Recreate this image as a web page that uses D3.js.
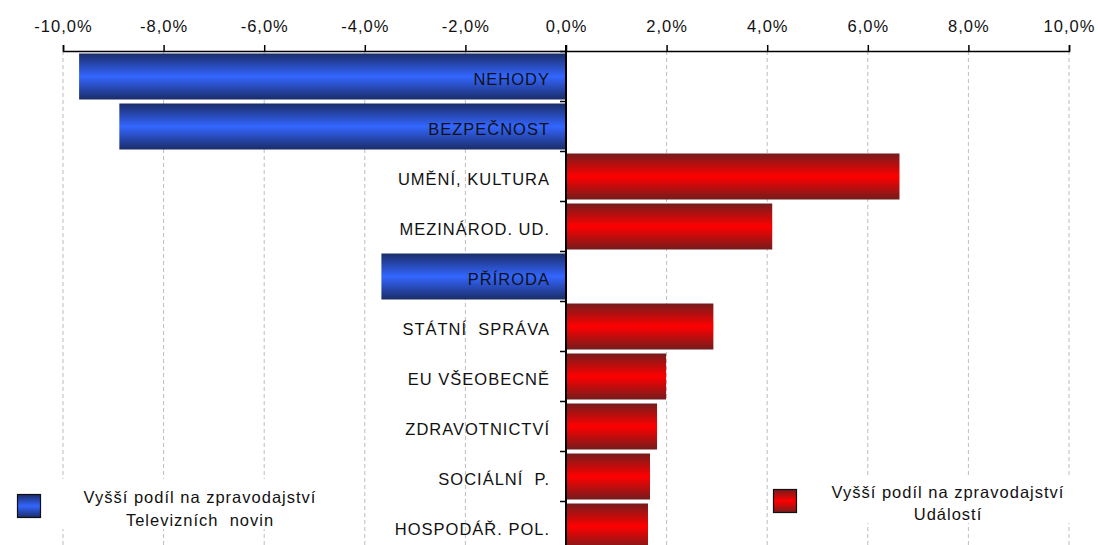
<!DOCTYPE html>
<html>
<head>
<meta charset="utf-8">
<script src="https://cdn.jsdelivr.net/npm/d3@7"></script>
<style>
  html, body { margin: 0; padding: 0; background: #fff; }
  svg { display: block; font-family: "Liberation Sans", Arial, sans-serif; }
  .txt { font-size: 16.5px; letter-spacing: 1px; fill: #111; white-space: pre; }
</style>
</head>
<body>
<svg id="chart" width="1098" height="545"></svg>
<script>
// rozdíl podílu témat (Události minus Televizní noviny), v %
const categories = ["NEHODY", "BEZPEČNOST", "UMĚNÍ, KULTURA", "MEZINÁROD. UD.", "PŘÍRODA",
    "STÁTNÍ  SPRÁVA", "EU VŠEOBECNĚ", "ZDRAVOTNICTVÍ", "SOCIÁLNÍ  P.", "HOSPODÁŘ. POL."];
const values = [-9.68, -8.88, 6.63, 4.10, -3.67, 2.93, 1.99, 1.81, 1.67, 1.63];
const tickValues = [-10, -8, -6, -4, -2, 0, 2, 4, 6, 8, 10];
const legendTV = ["Vyšší podíl na zpravodajství", "Televizních  novin"];
const legendUD = ["Vyšší podíl na zpravodajství", "Událostí"];

const svg = d3.select("#chart");
const W = 1098, H = 545;

const x = d3.scaleLinear().domain([-10, 10]).range([63, 1069]);
const y = d3.scaleBand().domain(categories).range([51.5, 551.5])
    .paddingInner(0.08).paddingOuter(0.04);

const cz = d3.formatLocale({decimal: ",", thousands: " ", grouping: [3], currency: ["", " Kč"], minus: "-"});
const fmt = v => cz.format(".1f")(v) + "%";

// gradienty
const defs = svg.append("defs");
function grad(id, edge, mid) {
    const g = defs.append("linearGradient").attr("id", id)
        .attr("x1", 0).attr("y1", 0).attr("x2", 0).attr("y2", 1);
    g.append("stop").attr("offset", "0%").attr("stop-color", edge);
    g.append("stop").attr("offset", "50%").attr("stop-color", mid);
    g.append("stop").attr("offset", "100%").attr("stop-color", edge);
}
grad("gBlue", "#1b2c68", "#3366ff");
grad("gRed", "#741c1c", "#ff0000");

// mřížka
svg.append("g").selectAll("line")
    .data(tickValues.filter(d => d !== 0))
    .join("line")
    .attr("x1", d => x(d)).attr("x2", d => x(d))
    .attr("y1", 51).attr("y2", H)
    .attr("stroke", "#bdbdbd").attr("stroke-width", 1)
    .attr("stroke-dasharray", "4,3");

// sloupce
svg.append("g").selectAll("rect")
    .data(values)
    .join("rect")
    .attr("x", d => x(Math.min(0, d)))
    .attr("width", d => Math.abs(x(d) - x(0)))
    .attr("y", (d, i) => y(categories[i]))
    .attr("height", y.bandwidth())
    .attr("fill", d => d < 0 ? "url(#gBlue)" : "url(#gRed)");

// horní osa
const xAxis = svg.append("g").attr("transform", "translate(0,51)")
    .call(d3.axisTop(x).tickValues(tickValues).tickFormat(fmt).tickSize(6).tickPadding(13));
xAxis.select(".domain").attr("stroke", "#000").attr("stroke-width", 1.5);
xAxis.selectAll(".tick line").attr("stroke", "#000").attr("stroke-width", 1.5);
xAxis.selectAll(".tick text").attr("class", "txt").attr("font-size", null)
    .attr("font-family", null).attr("fill", "#111");
xAxis.attr("font-size", null).attr("font-family", null);

// svislá osa v nule
const yAxis = svg.append("g").attr("transform", `translate(${x(0)},0)`);
yAxis.append("line")
    .attr("x1", 0).attr("x2", 0).attr("y1", 45).attr("y2", H)
    .attr("stroke", "#000").attr("stroke-width", 2);
yAxis.selectAll("line.tk")
    .data(categories)
    .join("line").attr("class", "tk")
    .attr("x1", -6).attr("x2", 0)
    .attr("y1", d => y(d) - y.step() * y.paddingInner() / 2)
    .attr("y2", d => y(d) - y.step() * y.paddingInner() / 2)
    .attr("stroke", "#000").attr("stroke-width", 1.5);
yAxis.selectAll("text")
    .data(categories)
    .join("text").attr("class", "txt")
    .attr("x", -16)
    .attr("y", d => y(d) + y.bandwidth() / 2 + 8.5)
    .attr("text-anchor", "end")
    .text(d => d);

// legenda
function legend(x0, y0, w, h, sq, lines, cx, base, fill) {
    const g = svg.append("g");
    g.append("rect").attr("x", x0).attr("y", y0).attr("width", w).attr("height", h).attr("fill", "#fff");
    g.append("rect").attr("x", sq[0]).attr("y", sq[1]).attr("width", 23).attr("height", 23)
        .attr("fill", fill).attr("stroke", "#111").attr("stroke-width", 1.2);
    g.selectAll("text").data(lines).join("text").attr("class", "txt")
        .attr("x", cx).attr("y", (d, i) => base + i * 22.5)
        .attr("text-anchor", "middle").text(d => d);
}
legend(10, 479, 318, 50, [17.5, 494.5], legendTV, 200, 503, "url(#gBlue)");
legend(770, 476, 302, 47, [773.5, 489.5], legendUD, 948, 497.5, "url(#gRed)");
</script>
</body>
</html>
